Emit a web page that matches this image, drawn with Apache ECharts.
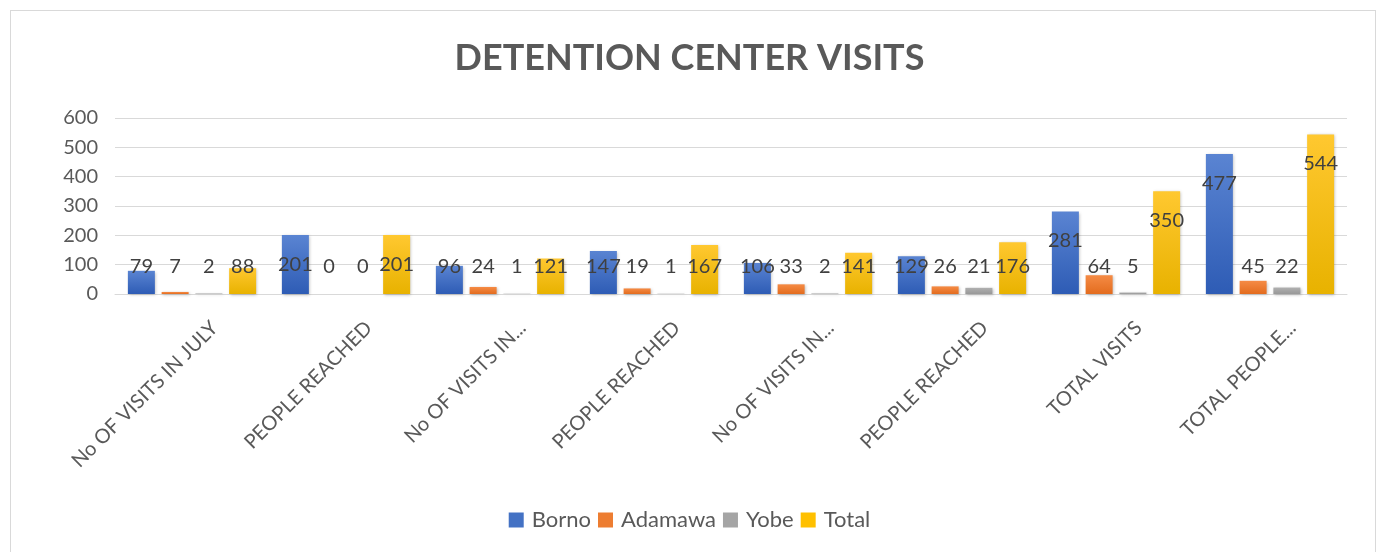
<!DOCTYPE html>
<html>
<head>
<meta charset="utf-8">
<script src="https://cdn.jsdelivr.net/npm/echarts@6/dist/echarts.min.js"></script>
<style>
  html, body { margin: 0; padding: 0; background: #fff; }
  #frame { position: absolute; left: 10px; top: 10px; width: 1366px; height: 560px; border: 1px solid #d9d9d9; box-sizing: border-box; }
  #chart { position: absolute; left: 0; top: 0; width: 1379px; height: 552px; }
</style>
</head>
<body>
<div id="frame"></div>
<div id="chart"></div>
<script>
// categories as shown (truncated like the original)
var categories = ['No OF VISITS IN JULY', 'PEOPLE REACHED', 'No OF VISITS IN...', 'PEOPLE REACHED',
                  'No OF VISITS IN...', 'PEOPLE REACHED', 'TOTAL VISITS', 'TOTAL PEOPLE...'];
var borno   = [79, 201, 96, 147, 106, 129, 281, 477];
var adamawa = [7, 0, 24, 19, 33, 26, 64, 45];
var yobe    = [2, 0, 1, 1, 2, 21, 5, 22];
var total   = [88, 201, 121, 167, 141, 176, 350, 544];
var seriesNames = ['Borno', 'Adamawa', 'Yobe', 'Total'];

var yMax = 600, gridTop = 118, gridHeight = 176;
var pxPerUnit = gridHeight / yMax;

// labels sit low like in the excel chart: small bars at ~95, tall bars ~100 below top
function withLabels(arr) {
  return arr.map(function (v) {
    var level = Math.max(95, v - 100);
    return { value: v, label: { position: ['50%', (v - level) * pxPerUnit] } };
  });
}

function grad(top, bottom) {
  return new echarts.graphic.LinearGradient(0, 0, 0, 1, [
    { offset: 0, color: top }, { offset: 1, color: bottom }
  ]);
}

var colors = [grad('#5a84d2', '#2e5cb5'), grad('#f58b45', '#e36c1e'), grad('#b0b0b0', '#989898'), grad('#ffc830', '#e8b200')];
var legendColors = ['#4472c4', '#ed7d31', '#a5a5a5', '#ffc000'];
var font = 'Lato, "Open Sans", sans-serif';

var series = [borno, adamawa, yobe, total].map(function (d, i) {
  return {
    name: seriesNames[i],
    type: 'bar',
    data: withLabels(d),
    barWidth: 27,
    barGap: '25%',
    itemStyle: { color: colors[i], shadowBlur: 3, shadowColor: 'rgba(0,0,0,0.25)', shadowOffsetX: 1, shadowOffsetY: 1 },
    label: {
      show: true,
      align: 'center',
      verticalAlign: 'middle',
      color: '#404040',
      fontSize: 20,
      fontFamily: font
    }
  };
});

var myChart = echarts.init(document.getElementById('chart'));
var option = {
  animation: false,
  color: legendColors,
  title: {
    text: 'DETENTION CENTER VISITS',
    left: 'center',
    top: 35,
    textStyle: { fontFamily: font, fontWeight: 'bold', fontSize: 36, color: '#595959' }
  },
  legend: {
    bottom: 16,
    left: 'center',
    itemWidth: 15,
    itemHeight: 15,
    itemGap: 7,
    icon: 'rect',
    textStyle: { fontFamily: font, fontSize: 22, color: '#595959', padding: [0, 0, 0, 3] },
    data: seriesNames.map(function (n, i) { return { name: n, itemStyle: { color: legendColors[i] } }; })
  },
  grid: { left: 115, right: 32, top: gridTop, height: gridHeight, containLabel: false },
  xAxis: {
    type: 'category',
    data: categories,
    axisLine: { lineStyle: { color: '#d9d9d9', width: 1 } },
    axisTick: { show: false },
    axisLabel: {
      interval: 0,
      rotate: 45,
      margin: 8,
      verticalAlign: 'top',
      padding: [22, 0, 0, 0],
      fontFamily: font,
      fontSize: 20,
      color: '#595959'
    }
  },
  yAxis: {
    type: 'value',
    min: 0,
    max: yMax,
    interval: 100,
    axisLine: { show: false },
    axisTick: { show: false },
    splitLine: { lineStyle: { color: '#d9d9d9', width: 1 } },
    axisLabel: { margin: 17, fontFamily: font, fontSize: 20, color: '#595959' }
  },
  series: series
};
myChart.setOption(option);
</script>
</body>
</html>
